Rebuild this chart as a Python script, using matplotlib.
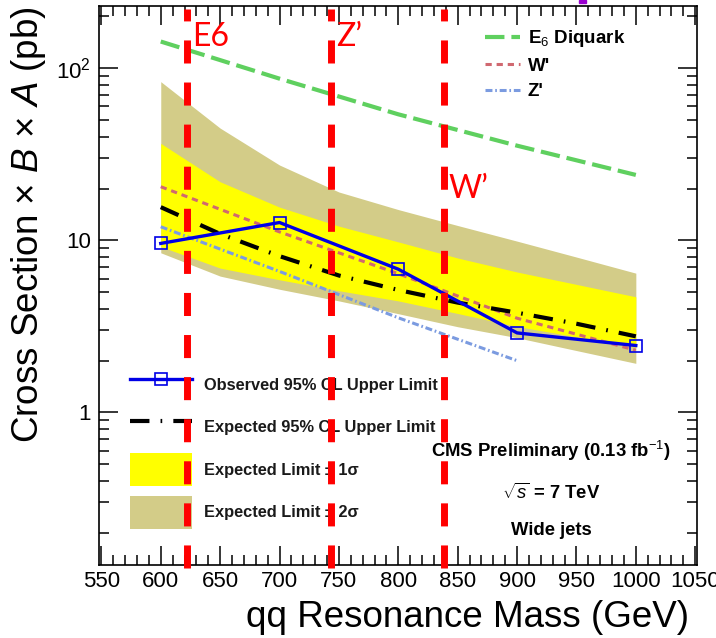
import numpy as np
import matplotlib.pyplot as plt
import matplotlib.transforms as mtransforms
from matplotlib.patches import Rectangle
from matplotlib.ticker import MultipleLocator, LogLocator, NullFormatter

plt.rcParams['font.family'] = ['Liberation Sans', 'DejaVu Sans']
plt.rcParams['mathtext.fontset'] = 'custom'
plt.rcParams['mathtext.rm'] = 'Liberation Sans'
plt.rcParams['mathtext.it'] = 'Liberation Sans:italic'
plt.rcParams['mathtext.bf'] = 'Liberation Sans:bold'
plt.rcParams['lines.scale_dashes'] = False  # dash lengths given in points

# 95% CL upper limits (pb) vs resonance mass (GeV)
mass_obs = [600, 700, 800, 900, 1000]
obs_limit = [9.6, 12.7, 6.8, 2.9, 2.45]

mass_exp = [600, 650, 700, 750, 800, 850, 900, 950, 1000]
exp_limit = [15.6, 10.9, 8.1, 6.25, 5.15, 4.35, 3.8, 3.28, 2.77]
exp_1s_lo = [9.2, 6.9, 5.9, 5.1, 4.45, 3.76, 3.16, 2.75, 2.4]
exp_1s_hi = [36.6, 21.9, 15.6, 12.1, 9.8, 7.9, 6.55, 5.55, 4.7]
exp_2s_lo = [8.47, 6.2, 5.2, 4.45, 3.75, 3.15, 2.72, 2.29, 1.93]
exp_2s_hi = [83.6, 44.9, 27.4, 19.1, 15.1, 12.2, 9.9, 8.0, 6.45]

# theory cross sections
mass_e6 = [600, 700, 800, 900, 1000]
xs_e6 = [143, 87, 54, 35.5, 24]
mass_w = [600, 700, 800, 900, 1000]
xs_w = [20.5, 11.2, 6.4, 3.53, 2.3]
mass_z = [600, 700, 800, 900]
xs_z = [12.0, 6.6, 3.55, 2.0]

# excluded mass markers
mark_mass = [622.5, 743.7, 838.1]
mark_text = ['E6', 'Z’', 'W’']
mark_text_y = [0.972, 0.972, 0.70]

green = '#5fd05f'
wcol = '#d06870'
zcol = '#7b9be0'
yellow = '#ffff00'
khaki = '#d3cc88'

fig = plt.figure(figsize=(7.16, 6.38), dpi=100)
ax = fig.add_axes([99 / 716, 1 - 565 / 638, 598 / 716, 559 / 638])

b2 = ax.fill_between(mass_exp, exp_2s_lo, exp_2s_hi, color=khaki, lw=0, zorder=1)
b1 = ax.fill_between(mass_exp, exp_1s_lo, exp_1s_hi, color=yellow, lw=0, zorder=2)

l_e6, = ax.plot(mass_e6, xs_e6, color=green, lw=3, dashes=(14, 5), zorder=3)
l_w, = ax.plot(mass_w, xs_w, color=wcol, lw=2.2, dashes=(4.5, 3.5), zorder=3)
l_z, = ax.plot(mass_z, xs_z, color=zcol, lw=2.2, dashes=(5, 2, 1.2, 2), zorder=3)
l_exp, = ax.plot(mass_exp, exp_limit, color='black', lw=3, dashes=(14, 8, 1.2, 8), zorder=4)
l_obs, = ax.plot(mass_obs, obs_limit, color='#0000e6', lw=2.4, marker='s', ms=8,
                 mfc='none', mec='#0000e6', mew=1.2, zorder=5)

trans = mtransforms.blended_transform_factory(ax.transData, ax.transAxes)
for m, txt, ty in zip(mark_mass, mark_text, mark_text_y):
    ax.axvline(m, ymin=-0.0054, ymax=0.9946, color='#ff0000', lw=5,
               dashes=(16.6, 13.7), clip_on=False, zorder=6)
    ax.annotate(txt, xy=(m, ty), xycoords=trans, xytext=(3.5, 0), textcoords='offset points',
                ha='left', va='top', color='#ff0000', fontsize=23, family='Lato', zorder=7)

ax.set_xlim(548, 1051.5)
ax.set_yscale('log')
ax.set_ylim(0.13, 230)
ax.xaxis.set_major_locator(MultipleLocator(50))
ax.xaxis.set_minor_locator(MultipleLocator(10))
ax.set_yticks([1, 10, 100], labels=['1', '10', '10$^{2}$'])
ax.yaxis.set_minor_locator(LogLocator(base=10, subs=np.arange(2, 10)))
ax.yaxis.set_minor_formatter(NullFormatter())
ax.tick_params(which='both', direction='in', top=True, right=True, width=1.1, labelsize=16)
ax.tick_params(which='major', length=13.5)
ax.tick_params(which='minor', length=7)
ax.tick_params(axis='x', pad=4.5)
ax.tick_params(axis='y', pad=6)
for sp in ax.spines.values():
    sp.set_linewidth(1.2)

ax.set_xlabel('qq Resonance Mass (GeV)', fontsize=26.5, loc='right')
ax.xaxis.set_label_coords(0.9866, -0.062)
ax.set_ylabel('Cross Section × $B$ × $A$ (pb)', fontsize=26.5, loc='top')
ax.yaxis.set_label_coords(-0.085, 1.0)

leg1 = ax.legend([l_e6, l_w, l_z], ['E$_{6}$ Diquark', 'W\'', 'Z\''],
                 loc='upper left', bbox_to_anchor=(0.6455, 0.96), frameon=False,
                 borderpad=0, borderaxespad=0, handlelength=1.85, handletextpad=0.42,
                 labelspacing=0.45, prop={'weight': 'bold', 'size': 13.5})
ax.add_artist(leg1)
leg2 = ax.legend([l_obs, l_exp, b1, b2],
                 ['Observed 95% CL Upper Limit', 'Expected 95% CL Upper Limit',
                  'Expected Limit ± 1σ', 'Expected Limit ± 2σ'],
                 loc='upper left', bbox_to_anchor=(0.0518, 0.352), frameon=False,
                 borderpad=0, borderaxespad=0, handlelength=3.8, handleheight=2.7,
                 handletextpad=0.72, labelspacing=0.6, prop={'weight': 'bold', 'size': 11.8})
for t in leg2.get_texts():
    t.set_color('#1a1a1a')

ax.text(0.756, 0.204, 'CMS Preliminary (0.13 fb$^{-1}$)', transform=ax.transAxes,
        ha='center', va='center', fontsize=13.3, fontweight='bold')
ax.text(0.756, 0.129, r'$\sqrt{s}$ = 7 TeV', transform=ax.transAxes,
        ha='center', va='center', fontsize=13.3, fontweight='bold')
ax.text(0.756, 0.061, 'Wide jets', transform=ax.transAxes,
        ha='center', va='center', fontsize=13.3, fontweight='bold')

fig.add_artist(Rectangle((579 / 716, 1 - 3 / 638), 7 / 716, 3 / 638,
                         transform=fig.transFigure, color='#9a00d0'))

fig.savefig('out.png', dpi=100)
